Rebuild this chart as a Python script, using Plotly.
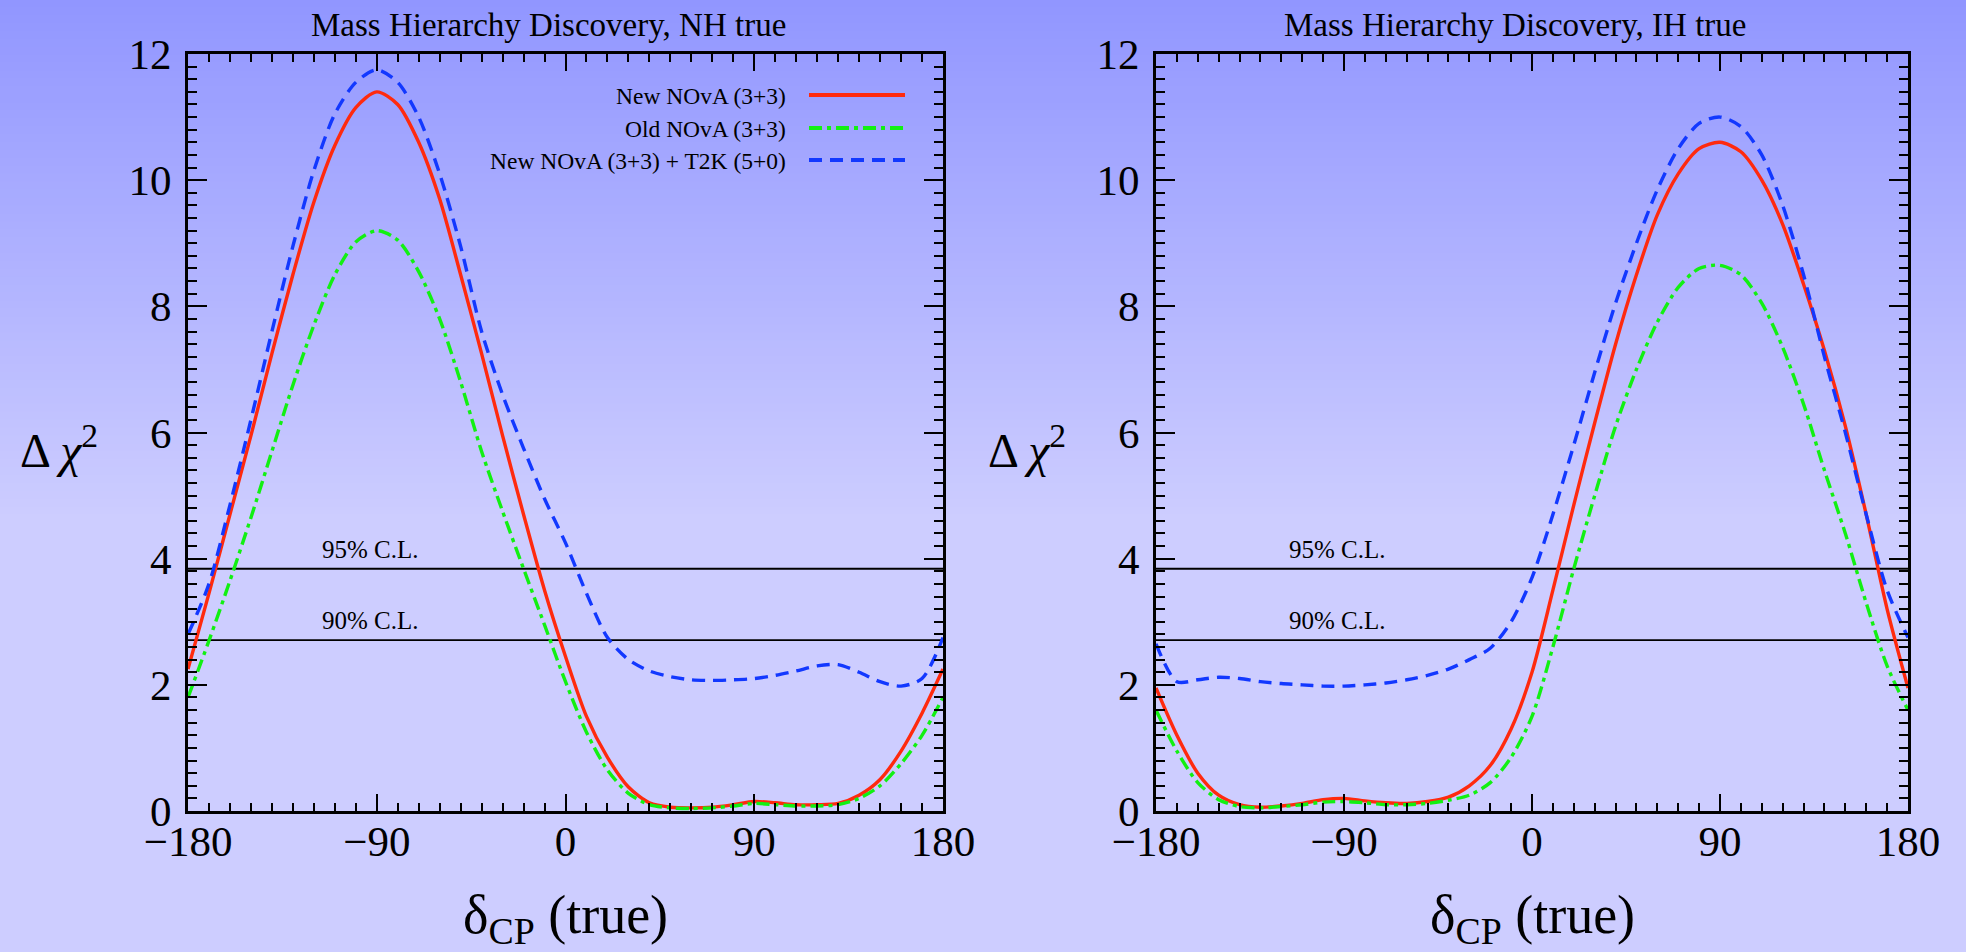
import plotly.graph_objects as go

# delta_CP (true) sampling, degrees
DELTA = list(range(-180, 181, 10))

# Delta chi^2 for mass hierarchy discovery, NH true
NH_NEW = [2.25, 3.45, 4.70, 5.95, 7.25, 8.50, 9.65, 10.55, 11.15, 11.40,
          11.20, 10.60, 9.70, 8.50, 7.25, 5.95, 4.70, 3.50, 2.45, 1.50,
          0.85, 0.38, 0.13, 0.06, 0.05, 0.06, 0.10, 0.15, 0.13, 0.10,
          0.10, 0.12, 0.25, 0.50, 0.95, 1.55, 2.25]
NH_OLD = [1.80, 2.70, 3.65, 4.65, 5.70, 6.75, 7.70, 8.50, 9.02, 9.20,
          9.05, 8.55, 7.80, 6.80, 5.70, 4.75, 3.84, 2.95, 2.05, 1.25,
          0.65, 0.28, 0.10, 0.05, 0.04, 0.05, 0.08, 0.12, 0.10, 0.08,
          0.08, 0.10, 0.20, 0.40, 0.75, 1.20, 1.80]
NH_T2K = [2.80, 3.60, 4.85, 6.20, 7.60, 8.95, 10.15, 11.05, 11.55, 11.75,
          11.55, 11.00, 10.10, 8.95, 7.60, 6.60, 5.75, 4.95, 4.25, 3.45,
          2.75, 2.40, 2.22, 2.13, 2.08, 2.07, 2.08, 2.10, 2.15, 2.22,
          2.30, 2.32, 2.20, 2.05, 1.98, 2.10, 2.75]

# Delta chi^2 for mass hierarchy discovery, IH true
IH_NEW = [1.95, 1.20, 0.60, 0.25, 0.10, 0.06, 0.08, 0.12, 0.18, 0.20,
          0.16, 0.13, 0.12, 0.15, 0.22, 0.40, 0.72, 1.30, 2.20, 3.50,
          4.85, 6.15, 7.40, 8.50, 9.45, 10.10, 10.50, 10.60, 10.45, 10.00,
          9.30, 8.35, 7.30, 6.10, 4.70, 3.20, 1.95]
IH_OLD = [1.60, 0.95, 0.45, 0.18, 0.07, 0.05, 0.07, 0.10, 0.14, 0.15,
          0.13, 0.10, 0.10, 0.12, 0.17, 0.25, 0.45, 0.85, 1.50, 2.60,
          3.84, 5.00, 6.10, 7.00, 7.75, 8.30, 8.60, 8.65, 8.50, 8.05,
          7.35, 6.45, 5.40, 4.40, 3.30, 2.30, 1.60]
IH_T2K = [2.65, 2.05, 2.08, 2.12, 2.10, 2.05, 2.02, 2.00, 1.98, 1.98,
          2.00, 2.03, 2.08, 2.15, 2.25, 2.40, 2.58, 3.00, 3.70, 4.70,
          5.80, 6.95, 8.05, 9.00, 9.85, 10.50, 10.90, 11.00, 10.85, 10.40,
          9.60, 8.50, 7.20, 6.00, 4.70, 3.50, 2.75]

CL_LEVELS = [3.84, 2.71]
CL_LABELS = ["95% C.L.", "90% C.L."]
CL_LABEL_AT = -93

SERIES_NAMES = ["New NOvA (3+3)", "Old NOvA (3+3)", "New NOvA (3+3) + T2K (5+0)"]
PANEL_TITLES = ["Mass Hierarchy Discovery, NH true", "Mass Hierarchy Discovery, IH true"]
X_TICKS = [-180, -90, 0, 90, 180]
Y_TICKS = [0, 2, 4, 6, 8, 10, 12]

W, H = 1966, 952
FONT = "Liberation Serif"

COLORS = ["#ff2a0e", "#12f012", "#1238ff"]
DASHES = ["solid", "13px,5px,4px,5px", "13px,8px"]
WIDTHS = [3.4, 3.4, 3.4]

# panel frames in pixels (left, right, top, bottom)
PANELS = [(188, 943), (1156, 1908)]
TOP, BOTTOM = 54, 811


def px_x(p):
    return p / W


def px_y(p):
    return 1 - p / H


fig = go.Figure()

panel_data = [(NH_NEW, NH_OLD, NH_T2K), (IH_NEW, IH_OLD, IH_T2K)]
for i, series in enumerate(panel_data):
    xa = "x" if i == 0 else "x2"
    ya = "y" if i == 0 else "y2"
    for lvl in CL_LEVELS:
        fig.add_trace(go.Scatter(x=[-180, 180], y=[lvl, lvl], mode="lines",
                                 line=dict(color="black", width=1.8),
                                 xaxis=xa, yaxis=ya, showlegend=False,
                                 hoverinfo="skip"))
    for k, vals in enumerate(series):
        fig.add_trace(go.Scatter(x=DELTA, y=vals, mode="lines",
                                 name=SERIES_NAMES[k],
                                 line=dict(color=COLORS[k], width=WIDTHS[k],
                                           dash=DASHES[k], shape="spline",
                                           smoothing=0.8),
                                 xaxis=xa, yaxis=ya, showlegend=False))

axis_common = dict(
    showline=True, linecolor="black", linewidth=2.6, mirror="allticks",
    ticks="inside", tickcolor="black", tickwidth=1.8,
    showgrid=False, zeroline=False, automargin=False,
    tickfont=dict(family=FONT, size=43, color="black"),
)

for i, (l, r) in enumerate(PANELS):
    sfx = "" if i == 0 else str(i + 1)
    fig.update_layout(**{
        "xaxis" + sfx: dict(
            axis_common, domain=[px_x(l), px_x(r)], range=[-180, 180],
            tickvals=X_TICKS, ticklen=17, ticklabelstandoff=-9,
            minor=dict(dtick=10, ticklen=8, tickwidth=1.6, ticks="inside",
                       tickcolor="black", showgrid=False),
            anchor="y" + sfx),
        "yaxis" + sfx: dict(
            axis_common, domain=[px_y(BOTTOM), px_y(TOP)], range=[0, 12],
            tickvals=Y_TICKS, ticklen=19, ticklabelstandoff=5,
            minor=dict(dtick=0.2, ticklen=9, tickwidth=1.6, ticks="inside",
                       tickcolor="black", showgrid=False),
            anchor="x" + sfx),
    })

annotations = []
for i, (l, r) in enumerate(PANELS):
    xa = "x" if i == 0 else "x2"
    ya = "y" if i == 0 else "y2"
    cx = (l + r) / 2
    annotations.append(dict(text=PANEL_TITLES[i], x=px_x(cx - 17), y=px_y(25),
                            xref="paper", yref="paper", showarrow=False,
                            xanchor="center", yanchor="middle",
                            font=dict(family=FONT, size=33, color="black")))
    annotations.append(dict(text="δ<sub>CP</sub> (true)", x=px_x(cx), y=px_y(918),
                            xref="paper", yref="paper", showarrow=False,
                            xanchor="center", yanchor="middle",
                            font=dict(family=FONT, size=54, color="black")))
    annotations.append(dict(text="Δ <i>χ</i><sup>2</sup>", x=px_x(l - 170), y=px_y(447),
                            xref="paper", yref="paper", showarrow=False,
                            xanchor="left", yanchor="middle",
                            font=dict(family=FONT, size=48, color="black")))
    for lvl, lab in zip(CL_LEVELS, CL_LABELS):
        annotations.append(dict(text=lab, x=CL_LABEL_AT, y=lvl, xref=xa, yref=ya,
                                showarrow=False, xanchor="center",
                                yanchor="bottom", yshift=4,
                                font=dict(family=FONT, size=25, color="black")))

# key, text on the left and line sample on the right
shapes = []
key_rows = [96, 129, 161]
for k, row in enumerate(key_rows):
    annotations.append(dict(text=SERIES_NAMES[k], x=px_x(788), y=px_y(row),
                            xref="paper", yref="paper", showarrow=False,
                            xanchor="right", yanchor="middle",
                            font=dict(family=FONT, size=23.5, color="black")))
    shapes.append(dict(type="line", xref="paper", yref="paper",
                       x0=px_x(809), x1=px_x(905), y0=px_y(row - 1), y1=px_y(row - 1),
                       line=dict(color=COLORS[k], width=WIDTHS[k] + 0.6,
                                 dash=DASHES[k])))

# vertical background gradient
top_c = (145, 150, 255)
bot_c = (205, 205, 255)
n_bands = 120
fade_end = 520
for b in range(n_bands):
    y0 = H * b / n_bands
    y1 = H * (b + 1) / n_bands
    t = min(1.0, ((y0 + y1) / 2) / fade_end)
    c = tuple(round(top_c[j] + (bot_c[j] - top_c[j]) * t) for j in range(3))
    shapes.append(dict(type="rect", xref="paper", yref="paper", layer="below",
                       x0=0, x1=1, y0=px_y(y1), y1=px_y(y0) + 0.001,
                       line=dict(width=0), fillcolor="rgb(%d,%d,%d)" % c))

fig.update_layout(
    width=W, height=H,
    margin=dict(l=0, r=0, t=0, b=0, pad=0, autoexpand=False),
    paper_bgcolor="rgb(205,205,255)",
    plot_bgcolor="rgba(0,0,0,0)",
    showlegend=False,
    annotations=annotations,
    shapes=shapes,
)

fig.write_html("out.html")
